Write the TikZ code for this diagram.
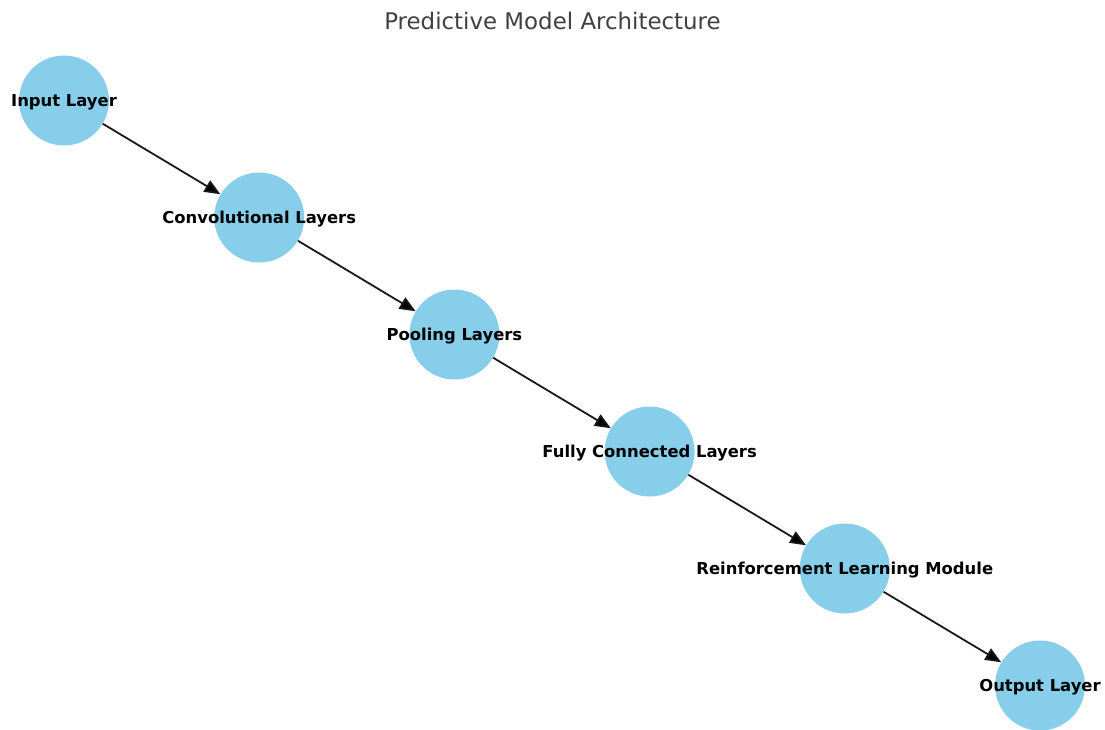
\documentclass[tikz,border=0pt]{standalone}
\usepackage{fontspec}
\setmainfont{DejaVu Sans}
\usepackage{tikz}
\usetikzlibrary{arrows.meta,positioning}
\definecolor{skyblue}{HTML}{87CEEB}
\tikzset{
    %Define standard arrow tip
    >={Triangle[length=16pt,width=13pt]},
    %Define style for layer circles
    layer/.style={
           circle,
           fill=skyblue,
           minimum size=90pt,
           inner sep=0pt},
    %Define style for layer names
    lname/.style={
           font=\fontsize{16.4}{19}\selectfont\bfseries,
           text=black,
           yshift=-1.5pt},
    % Define arrow style
    pil/.style={
           ->,
           line width=1.8pt,
           draw=black!90}
}

\begin{document}
\begin{tikzpicture}[x=1pt,y=1pt,node distance=117pt and 195.2pt,on grid]
\useasboundingbox (0,0) rectangle (1105,-729);
\node[font=\fontsize{22.9}{27}\selectfont,text=black!75] (title) at (552.5,-21) {Predictive Model Architecture};
 %nodes
\node[layer,label={[lname]center:Input Layer}](1) at (64,-100.5){};
\node[layer,label={[lname]center:Convolutional Layers},below right=of 1](2){};
\node[layer,label={[lname]center:Pooling Layers},below right=of 2](3){};
\node[layer,label={[lname]center:Fully Connected Layers},below right=of 3](4){};
\node[layer,label={[lname]center:Reinforcement Learning Module},below right=of 4](5){};
\node[layer,label={[lname]center:Output Layer},below right=of 5](6){};

 \path[pil]
    (1) edge (2)
    (2) edge (3)
    (3) edge (4)
    (4) edge (5)
    (5) edge (6);

\end{tikzpicture}
\end{document}
